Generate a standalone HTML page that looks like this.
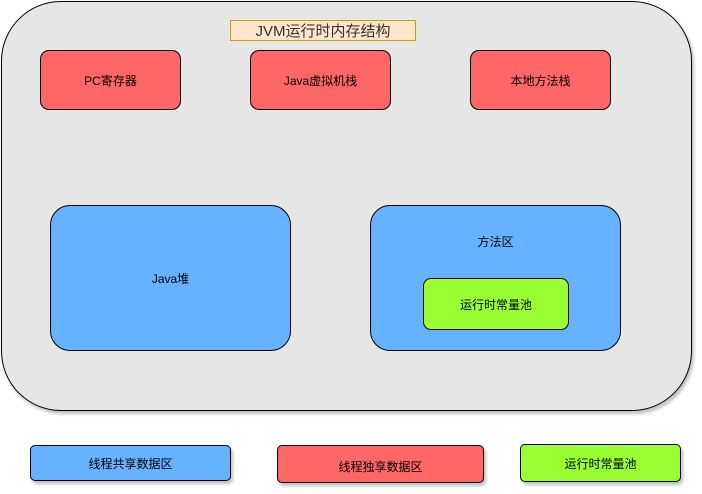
<!DOCTYPE html>
<html><head><meta charset="utf-8"><style>
body{margin:0;width:702px;height:494px;background:#fff;position:relative;font-family:"Liberation Sans","Noto Sans CJK SC",sans-serif;font-size:12px;color:#000;overflow:hidden}
.b{position:absolute;box-sizing:border-box;border:1px solid #000;display:flex;align-items:center;justify-content:center;text-align:center}
.r{background:#ff6666;border-radius:9px}
.bl{background:#66b2ff}
.g{background:#99ff33}
.sh{box-shadow:2px 3px 3px rgba(0,0,0,0.25)}
</style></head><body>
<div class="b sh" style="left:1px;top:1px;width:691px;height:410px;border-radius:60px;background:#e6e6e6"></div>
<div class="b" style="left:230px;top:20px;width:186px;height:21px;background:#ffe6cc;border-color:#d79b00;font-size:15px;color:#333">JVM运行时内存结构</div>
<div class="b r" style="left:40px;top:50px;width:141px;height:60px">PC寄存器</div>
<div class="b r" style="left:250px;top:50px;width:141px;height:60px">Java虚拟机栈</div>
<div class="b r" style="left:470px;top:50px;width:141px;height:60px">本地方法栈</div>
<div class="b bl" style="left:50px;top:205px;width:241px;height:146px;border-radius:20px">Java堆</div>
<div class="b bl" style="left:370px;top:205px;width:251px;height:146px;border-radius:20px;align-items:flex-start;padding-top:27px">方法区</div>
<div class="b g" style="left:423px;top:278px;width:146px;height:52px;border-radius:8px">运行时常量池</div>
<div class="b bl sh" style="left:30px;top:445px;width:201px;height:36px;border-radius:5px">线程共享数据区</div>
<div class="b r sh" style="left:277px;top:445px;width:207px;height:38px;border-radius:5px;padding-top:4px">线程独享数据区</div>
<div class="b g sh" style="left:520px;top:444px;width:161px;height:38px;border-radius:5px">运行时常量池</div>
</body></html>
